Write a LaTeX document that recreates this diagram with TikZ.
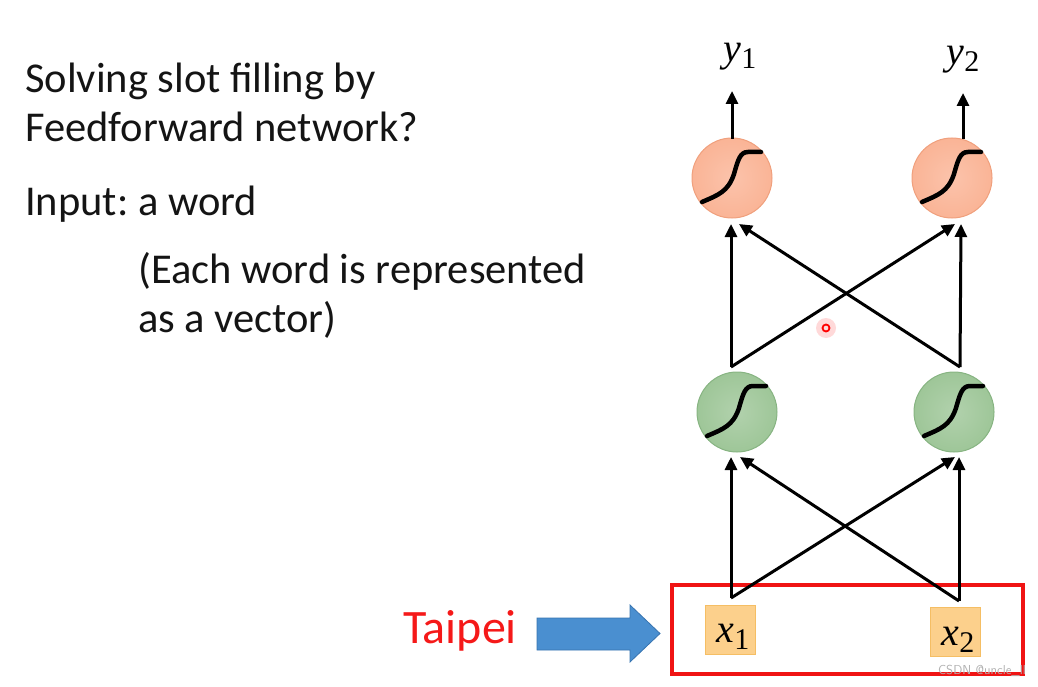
\documentclass[tikz,border=0pt]{standalone}
\usepackage{fontspec}
\setmainfont{Carlito}
\newfontfamily\tnr{Liberation Serif}
\usetikzlibrary{arrows.meta}
\definecolor{orfill}{RGB}{250,180,150}
\definecolor{ordraw}{RGB}{240,160,125}
\definecolor{grfill}{RGB}{158,198,152}
\definecolor{grdraw}{RGB}{135,180,130}
\definecolor{boxfill}{RGB}{252,208,140}
\definecolor{boxdraw}{RGB}{245,190,100}
\definecolor{arrblue}{RGB}{74,143,208}
\definecolor{arrblueD}{RGB}{55,115,175}
\definecolor{txt}{RGB}{20,20,20}
\tikzset{
  neuronO/.style={circle, minimum size=80pt, inner sep=0pt, inner color=orfill!80!white, outer color=orfill, draw=ordraw, line width=1pt},
  neuronG/.style={circle, minimum size=80pt, inner sep=0pt, inner color=grfill!80!white, outer color=grfill, draw=grdraw, line width=1pt},
  inbox/.style={rectangle, minimum width=50pt, minimum height=49pt, inner sep=0pt, fill=boxfill, draw=boxdraw, line width=0.8pt},
  arr/.style={line width=3pt, -{Triangle[length=13pt,width=12pt]}},
  sigm/.style={line width=4.5pt, line cap=round, black},
  bodytext/.style={anchor=base west, inner sep=0pt, text=txt, font=\fontsize{42.5}{48}\selectfont},
  varlab/.style={anchor=base, inner sep=0pt, font=\fontsize{40}{40}\selectfont\tnr},
}
\newcommand\sigcurve[1]{%
  \draw[sigm] ([shift={(-30pt,-24pt)}]#1.center) .. controls ([shift={(-14pt,-17pt)}]#1.center) and ([shift={(-4pt,-14pt)}]#1.center) .. ([shift={(2pt,4pt)}]#1.center) .. controls ([shift={(6pt,18pt)}]#1.center) and ([shift={(8pt,26pt)}]#1.center) .. ([shift={(16pt,26pt)}]#1.center) -- ([shift={(29pt,26pt)}]#1.center);}
\begin{document}
\frenchspacing
\begin{tikzpicture}[x=1pt,y=-1pt]
\useasboundingbox (0,0) rectangle (1038,687);
% text
\node[bodytext] (t1) at (25,93) {Solving slot filling by};
\node[bodytext] (t2) at (25,142) {Feedforward network?};
\node[bodytext] (t3) at (25,215) {Input: a word};
\node[bodytext] (t4) at (138,283) {(Each word is represented};
\node[bodytext] (t5) at (138,332) {as a vector)};
% red input box
\node[draw={rgb,255:red,240;green,20;blue,20}, line width=4pt, minimum width=351pt, minimum height=89pt, inner sep=0pt] (redbox) at (847.5,629.5) {};
% Taipei + blue arrow
\node[anchor=base west, inner sep=0pt, text={rgb,255:red,245;green,25;blue,25}, font=\fontsize{48}{48}\selectfont] (taipei) at (403,643) {Taipei};
\draw[fill=arrblue, draw=arrblueD, line width=0.8pt] (537,618) -- (630,618) -- (630,605) -- (660,633.5) -- (630,662) -- (630,650) -- (537,650) -- cycle;
% neurons
\node[neuronO] (o1) at (732,178) {};
\node[neuronO] (o2) at (952,178) {};
\node[neuronG] (g1) at (737,412) {};
\node[neuronG] (g2) at (954,412) {};
\sigcurve{o1}
\sigcurve{o2}
\sigcurve{g1}
\sigcurve{g2}
% inputs
\node[inbox] (x1) at (730,629.5) {};
\node[inbox] (x2) at (955,632) {};
\node[varlab] at (733,642) {\itshape x\raisebox{-7pt}{\upshape\fontsize{30}{30}\selectfont 1}};
\node[varlab] at (958,645) {\itshape x\raisebox{-7pt}{\upshape\fontsize{30}{30}\selectfont 2}};
% outputs
\node[varlab] (y1) at (740,62) {\itshape y\raisebox{-7pt}{\upshape\fontsize{30}{30}\selectfont 1}};
\node[varlab] (y2) at (963,65) {\itshape y\raisebox{-7pt}{\upshape\fontsize{30}{30}\selectfont 2}};
% coordinates
\coordinate (o1top) at (732,139);
\coordinate (o1arr) at (732,91);
\coordinate (o2top) at (963,139);
\coordinate (o2arr) at (963,93);
\coordinate (o1bl) at (731,224);
\coordinate (o1br) at (739,224);
\coordinate (o2bl) at (955,224);
\coordinate (o2br) at (961,224);
\coordinate (g1top) at (731,367);
\coordinate (g2top) at (960,367);
\coordinate (g1bl) at (731,457);
\coordinate (g1br) at (740,457);
\coordinate (g2bl) at (955,457);
\coordinate (g2br) at (959,457);
\coordinate (x1top) at (731,598);
\coordinate (x2top) at (959,601);
% connectors
\draw[arr] (o1top) -- (o1arr);
\draw[arr] (o2top) -- (o2arr);
\draw[arr] (g1top) -- (o1bl);
\draw[arr] (g1top) -- (o2bl);
\draw[arr] (g2top) -- (o1br);
\draw[arr] (g2top) -- (o2br);
\draw[arr] (x1top) -- (g1bl);
\draw[arr] (x1top) -- (g2bl);
\draw[arr] (x2top) -- (g1br);
\draw[arr] (x2top) -- (g2br);
% laser dot
\fill[red!15] (826,328) circle (10pt);
\draw[red, line width=1.8pt] (826,328) circle (3.5pt);
% watermark
\node[anchor=base east, inner sep=0pt, text=gray!60, font=\sffamily\fontsize{13}{13}\selectfont] (wm) at (1026,674) {CSDN @uncle\_ll};
\end{tikzpicture}
\end{document}
